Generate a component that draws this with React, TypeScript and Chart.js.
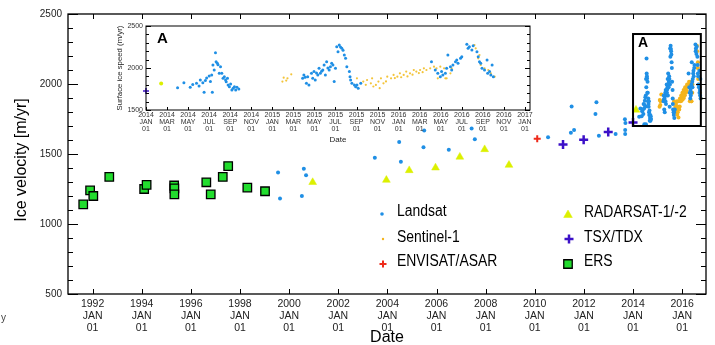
import React, { useEffect, useRef } from 'react';
import { Chart, registerables } from 'chart.js';
import { drawPoint } from 'chart.js/helpers';

Chart.register(...registerables);

const FONT = '"Liberation Sans", Arial, Helvetica, sans-serif';

// ---------------- DATA (year fraction, m/yr) ----------------
const ersPoints: [number, number][] = [
  [1991.62, 1140], [1991.9, 1240], [1992.03, 1200], [1992.68, 1336],
  [1994.1, 1250], [1994.2, 1280], [1995.32, 1275], [1995.33, 1255],
  [1995.33, 1212], [1996.63, 1298], [1996.81, 1212], [1997.3, 1336],
  [1997.52, 1414], [1998.3, 1260], [1999.02, 1234],
];

const landsatEarly: [number, number][] = [
  [1999.55, 1367], [1999.63, 1183], [2000.52, 1200], [2000.6, 1395], [2000.69, 1348],
  [2003.49, 1474], [2004.48, 1586], [2004.55, 1445], [2005.47, 1548], [2005.5, 1667],
  [2006.5, 1531], [2007.43, 1683], [2007.56, 1605], [2010.54, 1619], [2011.47, 1652],
  [2011.5, 1840], [2011.6, 1671], [2012.47, 1785], [2012.51, 1869], [2012.61, 1631],
  [2013.29, 1643], [2013.67, 1748], [2013.69, 1722], [2013.68, 1671], [2013.68, 1643],
];

const landsatRecent: [number, number][] = [
  [2014.25, 1766], [2014.3, 1825], [2014.35, 1770], [2014.37, 1805], [2014.4, 1818],
  [2014.42, 1785], [2014.43, 1857], [2014.45, 1825], [2014.46, 1712], [2014.47, 1850],
  [2014.48, 1880], [2014.5, 1905], [2014.51, 1840], [2014.52, 1918], [2014.525, 1712],
  [2014.53, 2036], [2014.54, 1976], [2014.55, 2182], [2014.555, 2075], [2014.565, 2056],
  [2014.57, 2040], [2014.58, 1937], [2014.59, 2016], [2014.6, 1937], [2014.61, 1877],
  [2014.62, 1897], [2014.63, 1857], [2014.635, 1837], [2014.645, 1877], [2014.65, 1798],
  [2014.66, 1778], [2014.67, 1810], [2014.68, 1738], [2014.69, 1758], [2014.7, 1778],
  [2014.71, 1738], [2014.72, 1770], [2014.735, 1750],
  [2015.24, 1877], [2015.25, 1917], [2015.26, 1890], [2015.27, 1818], [2015.28, 1897],
  [2015.29, 1798], [2015.31, 1937], [2015.32, 1877], [2015.33, 1957], [2015.34, 1857],
  [2015.35, 1940], [2015.36, 1917], [2015.37, 1996], [2015.38, 1937], [2015.39, 1960],
  [2015.4, 1976], [2015.41, 2036], [2015.42, 1917], [2015.43, 2075], [2015.44, 2000],
  [2015.45, 1976], [2015.46, 2016], [2015.47, 2056], [2015.48, 2035], [2015.49, 1838],
  [2015.5, 1996], [2015.51, 2254], [2015.52, 2194], [2015.53, 2274], [2015.54, 2250],
  [2015.55, 2234], [2015.56, 2210], [2015.57, 2155], [2015.58, 2115], [2015.59, 2016],
  [2015.61, 1957], [2015.615, 1897], [2015.62, 1857], [2015.63, 1818], [2015.65, 1798],
  [2015.66, 1778], [2015.67, 1798], [2015.68, 1758], [2015.7, 1818],
  [2016.26, 2075], [2016.29, 1976], [2016.31, 1937], [2016.33, 1897], [2016.34, 1957],
  [2016.35, 1917], [2016.37, 1937], [2016.38, 1996], [2016.39, 2155], [2016.41, 2016],
  [2016.42, 1976], [2016.43, 2036], [2016.45, 2075], [2016.46, 2095], [2016.47, 2056],
  [2016.49, 2115], [2016.5, 2135], [2016.54, 2282], [2016.55, 2234], [2016.56, 2254],
  [2016.58, 2214], [2016.59, 2266], [2016.62, 2194], [2016.63, 2135], [2016.64, 2075],
  [2016.65, 2056], [2016.66, 1996], [2016.68, 1976], [2016.7, 2095], [2016.705, 1937],
  [2016.72, 1957], [2016.73, 1917], [2016.74, 2036], [2016.75, 1897],
];

const sentinelPoints: [number, number][] = [
  [2015.08, 1838], [2015.09, 1885], [2015.11, 1850], [2015.12, 1877], [2015.15, 1925],
  [2015.67, 1877], [2015.72, 1838], [2015.74, 1800], [2015.75, 1857], [2015.78, 1818],
  [2015.79, 1877], [2015.8, 1780], [2015.82, 1798], [2015.84, 1838], [2015.85, 1760],
  [2015.86, 1877], [2015.88, 1818], [2015.9, 1840], [2015.91, 1897], [2015.94, 1877],
  [2015.96, 1917], [2015.97, 1880], [2015.99, 1897], [2016.01, 1937], [2016.02, 1890],
  [2016.04, 1917], [2016.06, 1957], [2016.07, 1900], [2016.09, 1937], [2016.11, 1920],
  [2016.12, 1976], [2016.14, 1957], [2016.16, 1940], [2016.17, 1976], [2016.19, 1950],
  [2016.2, 1996], [2016.22, 1976], [2016.25, 1996], [2016.28, 2016], [2016.3, 1996],
  [2016.31, 1877], [2016.33, 2016], [2016.36, 1996], [2016.37, 1877], [2016.38, 1877],
  [2016.41, 1937], [2016.42, 1996], [2016.6, 2274], [2016.61, 2234], [2016.63, 2115],
  [2016.64, 2155], [2016.65, 2036], [2016.68, 1996], [2016.71, 1976], [2016.73, 1937],
  [2016.76, 1897],
];

const radarsatPoints: [number, number][] = [
  [2000.96, 1298], [2003.96, 1314], [2004.89, 1383], [2005.96, 1402],
  [2006.95, 1479], [2007.96, 1533], [2008.95, 1421], [2014.12, 1815],
];

const envisatPoints: [number, number][] = [[2010.1, 1609]];

const tsxPoints: [number, number][] = [
  [2011.15, 1567], [2011.99, 1602], [2012.99, 1657], [2014.0, 1725],
];

// Tick labels
const mainYearTicks = [1992, 1994, 1996, 1998, 2000, 2002, 2004, 2006, 2008, 2010, 2012, 2014, 2016];
const mainYTicks = [500, 1000, 1500, 2000, 2500];
const insetMonthNames = ['JAN', 'MAR', 'MAY', 'JUL', 'SEP', 'NOV'];
const insetMonthOffsets = [0, 2, 4, 6, 8, 10, 12, 14, 16, 18, 20, 22, 24, 26, 28, 30, 32, 34, 36];
const insetYTicks = [1500, 2000, 2500];
// Highlighted region "A" in the main chart (data coordinates)
const boxYears = [2014.0, 2016.76];
const boxVelocity = [1700, 2357];

// ---------------- helpers ----------------
const toXY = (arr: [number, number][]) => arr.map(([x, y]) => ({ x, y }));

const C = {
  landsat: '#1f8fe5',
  sentinel: '#f4b41c',
  sentinelInset: '#f3c43a',
  envisat: '#ee2a1a',
  radarsat: '#dcf000',
  tsx: '#3c10c8',
  ers: '#22dd2e',
};

function framePlugin(cfg: { lw: number; yMinor: number; yMajor: number; majorLen: number; minorLen: number; xLen: number; xTop: boolean }) {
  return {
    id: 'frame',
    afterDatasetsDraw(chart: any) {
      const { ctx, chartArea } = chart;
      const { left, right, top, bottom } = chartArea;
      const xs = chart.scales.x;
      const ys = chart.scales.y;
      ctx.save();
      ctx.strokeStyle = '#000';
      ctx.lineWidth = cfg.lw;
      ctx.strokeRect(left, top, right - left, bottom - top);
      ctx.lineWidth = 1;
      ctx.beginPath();
      for (let v = ys.min; v <= ys.max + 1e-6; v += cfg.yMinor) {
        const py = Math.round(ys.getPixelForValue(v)) + 0.5;
        const r = (v - ys.min) / cfg.yMajor;
        const major = Math.abs(r - Math.round(r)) < 1e-6;
        const len = major ? cfg.majorLen : cfg.minorLen;
        ctx.moveTo(left, py); ctx.lineTo(left + len, py);
        ctx.moveTo(right, py); ctx.lineTo(right - len, py);
      }
      for (const t of xs.ticks) {
        const px = Math.round(xs.getPixelForValue(t.value)) + 0.5;
        ctx.moveTo(px, bottom); ctx.lineTo(px, bottom - cfg.xLen);
        if (cfg.xTop) { ctx.moveTo(px, top); ctx.lineTo(px, top + cfg.xLen); }
      }
      ctx.stroke();
      ctx.restore();
    },
  };
}

type TextItem = { text: string; x: number; y: number; size: number; bold?: boolean; rot?: number; align?: CanvasTextAlign; color?: string; sx?: number };

function textPlugin(items: TextItem[]) {
  return {
    id: 'texts',
    afterDraw(chart: any) {
      const ctx = chart.ctx;
      for (const it of items) {
        ctx.save();
        ctx.translate(it.x, it.y);
        if (it.rot) ctx.rotate(it.rot);
        if (it.sx) ctx.scale(it.sx, 1);
        ctx.font = `${it.bold ? 'bold ' : ''}${it.size}px ${FONT}`;
        ctx.fillStyle = it.color || '#000';
        ctx.textAlign = it.align || 'center';
        ctx.textBaseline = 'middle';
        ctx.fillText(it.text, 0, 0);
        ctx.restore();
      }
    },
  };
}

const boxPlugin = {
  id: 'boxA',
  afterDatasetsDraw(chart: any) {
    const { ctx } = chart;
    const xs = chart.scales.x;
    const ys = chart.scales.y;
    const x0 = xs.getPixelForValue(boxYears[0]);
    const x1 = xs.getPixelForValue(boxYears[1]);
    const y0 = ys.getPixelForValue(boxVelocity[1]);
    const y1 = ys.getPixelForValue(boxVelocity[0]);
    ctx.save();
    ctx.lineWidth = 2;
    ctx.strokeStyle = '#000';
    ctx.strokeRect(x0, y0, x1 - x0, y1 - y0);
    ctx.fillStyle = '#000';
    ctx.font = `bold 14px ${FONT}`;
    ctx.textAlign = 'left';
    ctx.textBaseline = 'middle';
    ctx.fillText('A', x0 + 5, y0 + 9);
    ctx.restore();
  },
};

type LegendItem = { label: string; style: any; radius: number; fill: string; stroke: string; bw: number; mx: number; my: number; tx: number; ty: number };
const legendItems: LegendItem[] = [
  { label: 'Landsat', style: 'circle', radius: 1.8, fill: C.landsat, stroke: C.landsat, bw: 0, mx: 382, my: 214, tx: 397, ty: 212 },
  { label: 'Sentinel-1', style: 'circle', radius: 1.2, fill: C.sentinel, stroke: C.sentinel, bw: 0, mx: 383, my: 239, tx: 397, ty: 237.5 },
  { label: 'ENVISAT/ASAR', style: 'cross', radius: 3.5, fill: C.envisat, stroke: C.envisat, bw: 2, mx: 383, my: 264, tx: 397, ty: 262 },
  { label: 'RADARSAT-1/-2', style: 'triangle', radius: 5, fill: C.radarsat, stroke: C.radarsat, bw: 0.5, mx: 568, my: 215, tx: 584, ty: 213 },
  { label: 'TSX/TDX', style: 'cross', radius: 4.5, fill: C.tsx, stroke: C.tsx, bw: 2.5, mx: 569, my: 239, tx: 584, ty: 237.5 },
  { label: 'ERS', style: 'rect', radius: 6, fill: C.ers, stroke: '#000', bw: 1.3, mx: 568, my: 264, tx: 584, ty: 262 },
];

const legendPlugin = {
  id: 'customLegend',
  afterDraw(chart: any) {
    const ctx = chart.ctx;
    for (const it of legendItems) {
      ctx.save();
      ctx.fillStyle = it.fill;
      ctx.strokeStyle = it.stroke;
      ctx.lineWidth = it.bw;
      drawPoint(ctx, { pointStyle: it.style, radius: it.radius, rotation: 0, borderWidth: it.bw } as any, it.mx, it.my);
      ctx.restore();
      ctx.save();
      ctx.translate(it.tx, it.ty);
      ctx.scale(0.87, 1);
      ctx.font = `16px ${FONT}`;
      ctx.fillStyle = '#000';
      ctx.textAlign = 'left';
      ctx.textBaseline = 'middle';
      ctx.fillText(it.label, 0, 0);
      ctx.restore();
    }
  },
};

export default function App() {
  const mainRef = useRef<HTMLCanvasElement | null>(null);
  const insetRef = useRef<HTMLCanvasElement | null>(null);

  useEffect(() => {
    if (!mainRef.current || !insetRef.current) return;

    const main = new Chart(mainRef.current, {
      type: 'scatter',
      data: {
        datasets: [
          { label: 'ERS', data: toXY(ersPoints), pointStyle: 'rect', radius: 6, backgroundColor: C.ers, borderColor: '#000', borderWidth: 1.3 },
          { label: 'Landsat', data: toXY([...landsatEarly, ...landsatRecent]), pointStyle: 'circle', radius: 2, backgroundColor: C.landsat, borderColor: C.landsat, borderWidth: 0 },
          { label: 'Sentinel-1', data: toXY(sentinelPoints), pointStyle: 'circle', radius: 2, backgroundColor: C.sentinel, borderColor: C.sentinel, borderWidth: 0 },
          { label: 'RADARSAT-1/-2', data: toXY(radarsatPoints), pointStyle: 'triangle', radius: 4.5, backgroundColor: C.radarsat, borderColor: C.radarsat, borderWidth: 0.5 },
          { label: 'ENVISAT/ASAR', data: toXY(envisatPoints), pointStyle: 'cross', radius: 3.5, backgroundColor: C.envisat, borderColor: C.envisat, borderWidth: 2 },
          { label: 'TSX/TDX', data: toXY(tsxPoints), pointStyle: 'cross', radius: 4.5, backgroundColor: C.tsx, borderColor: C.tsx, borderWidth: 2.5 },
        ] as any,
      },
      options: {
        animation: false,
        responsive: false,
        events: [],
        layout: { padding: { left: 0, right: 9, top: 14, bottom: 0 } },
        plugins: { legend: { display: false }, tooltip: { enabled: false } },
        scales: {
          x: {
            type: 'linear',
            min: 1991.0,
            max: 2016.97,
            afterBuildTicks: (s: any) => { s.ticks = mainYearTicks.map((v) => ({ value: v })); },
            afterFit: (s: any) => { s.height = 51; },
            grid: { display: false, drawTicks: false },
            border: { display: false },
            ticks: {
              padding: 4,
              maxRotation: 0,
              autoSkip: false,
              color: '#222',
              font: { family: FONT, size: 10.5, lineHeight: 1.15 },
              callback: (v: any) => [String(v), 'JAN', '01'],
            },
          },
          y: {
            type: 'linear',
            min: 500,
            max: 2500,
            afterBuildTicks: (s: any) => { s.ticks = mainYTicks.map((v) => ({ value: v })); },
            afterFit: (s: any) => { s.width = 68; },
            grid: { display: false, drawTicks: false },
            border: { display: false },
            ticks: { padding: 6, color: '#222', font: { family: FONT, size: 10 }, callback: (v: any) => String(v) },
          },
        },
      },
      plugins: [
        framePlugin({ lw: 1.3, yMinor: 100, yMajor: 500, majorLen: 10, minorLen: 5, xLen: 5, xTop: true }),
        boxPlugin,
        legendPlugin,
        textPlugin([
          { text: 'Ice velocity [m/yr]', x: 22, y: 160, size: 16, rot: -Math.PI / 2 },
          { text: 'Date', x: 387, y: 338, size: 16 },
          { text: 'y', x: 1, y: 318, size: 10, align: 'left', color: '#444' },
        ]),
      ] as any,
    });

    const inset = new Chart(insetRef.current, {
      type: 'scatter',
      data: {
        datasets: [
          { label: 'Landsat', data: toXY(landsatRecent), pointStyle: 'circle', radius: 1.5, backgroundColor: C.landsat, borderWidth: 0 },
          { label: 'Sentinel-1', data: toXY(sentinelPoints), pointStyle: 'circle', radius: 1.1, backgroundColor: C.sentinelInset, borderWidth: 0 },
          { label: 'RADARSAT-1/-2', data: toXY(radarsatPoints), pointStyle: 'circle', radius: 2, backgroundColor: C.radarsat, borderWidth: 0 },
          { label: 'TSX/TDX', data: toXY(tsxPoints), pointStyle: 'cross', radius: 3, borderColor: C.tsx, borderWidth: 1.5, clip: false },
        ] as any,
      },
      options: {
        animation: false,
        responsive: false,
        events: [],
        layout: { padding: { left: 0, right: 10, top: 10, bottom: 0 } },
        plugins: { legend: { display: false }, tooltip: { enabled: false } },
        scales: {
          x: {
            type: 'linear',
            min: 2014.0,
            max: 2017.04,
            afterBuildTicks: (s: any) => { s.ticks = insetMonthOffsets.map((m) => ({ value: 2014 + m / 12 })); },
            afterFit: (s: any) => { s.height = 40; },
            grid: { display: false, drawTicks: false },
            border: { display: false },
            ticks: {
              padding: 1.5,
              maxRotation: 0,
              autoSkip: false,
              color: '#333',
              font: { family: FONT, size: 7, lineHeight: 1 },
              callback: (v: any) => {
                const m = Math.round((Number(v) - 2014) * 12);
                const yr = 2014 + Math.floor(m / 12);
                return [String(yr), insetMonthNames[(m % 12) / 2], '01'];
              },
            },
          },
          y: {
            type: 'linear',
            min: 1500,
            max: 2500,
            afterBuildTicks: (s: any) => { s.ticks = insetYTicks.map((v) => ({ value: v })); },
            afterFit: (s: any) => { s.width = 46; },
            grid: { display: false, drawTicks: false },
            border: { display: false },
            ticks: { padding: 3, color: '#333', font: { family: FONT, size: 7 }, callback: (v: any) => String(v) },
          },
        },
      },
      plugins: [
        framePlugin({ lw: 1, yMinor: 100, yMajor: 500, majorLen: 5, minorLen: 3, xLen: 3, xTop: false }),
        textPlugin([
          { text: 'Surface ice speed (m/yr)', x: 20, y: 52, size: 7.8, rot: -Math.PI / 2, color: '#222' },
          { text: 'Date', x: 238, y: 124, size: 8, color: '#222' },
          { text: 'A', x: 57, y: 23, size: 15, bold: true, align: 'left' },
        ]),
      ] as any,
    });

    return () => {
      main.destroy();
      inset.destroy();
    };
  }, []);

  return (
    <div style={{ position: 'fixed', left: 0, top: 0, width: 715, height: 345, background: '#fff' }}>
      <canvas ref={mainRef} width={715} height={345} style={{ position: 'absolute', left: 0, top: 0, width: 715, height: 345 }} />
      <canvas ref={insetRef} width={440} height={134} style={{ position: 'absolute', left: 100, top: 16, width: 440, height: 134 }} />
    </div>
  );
}
